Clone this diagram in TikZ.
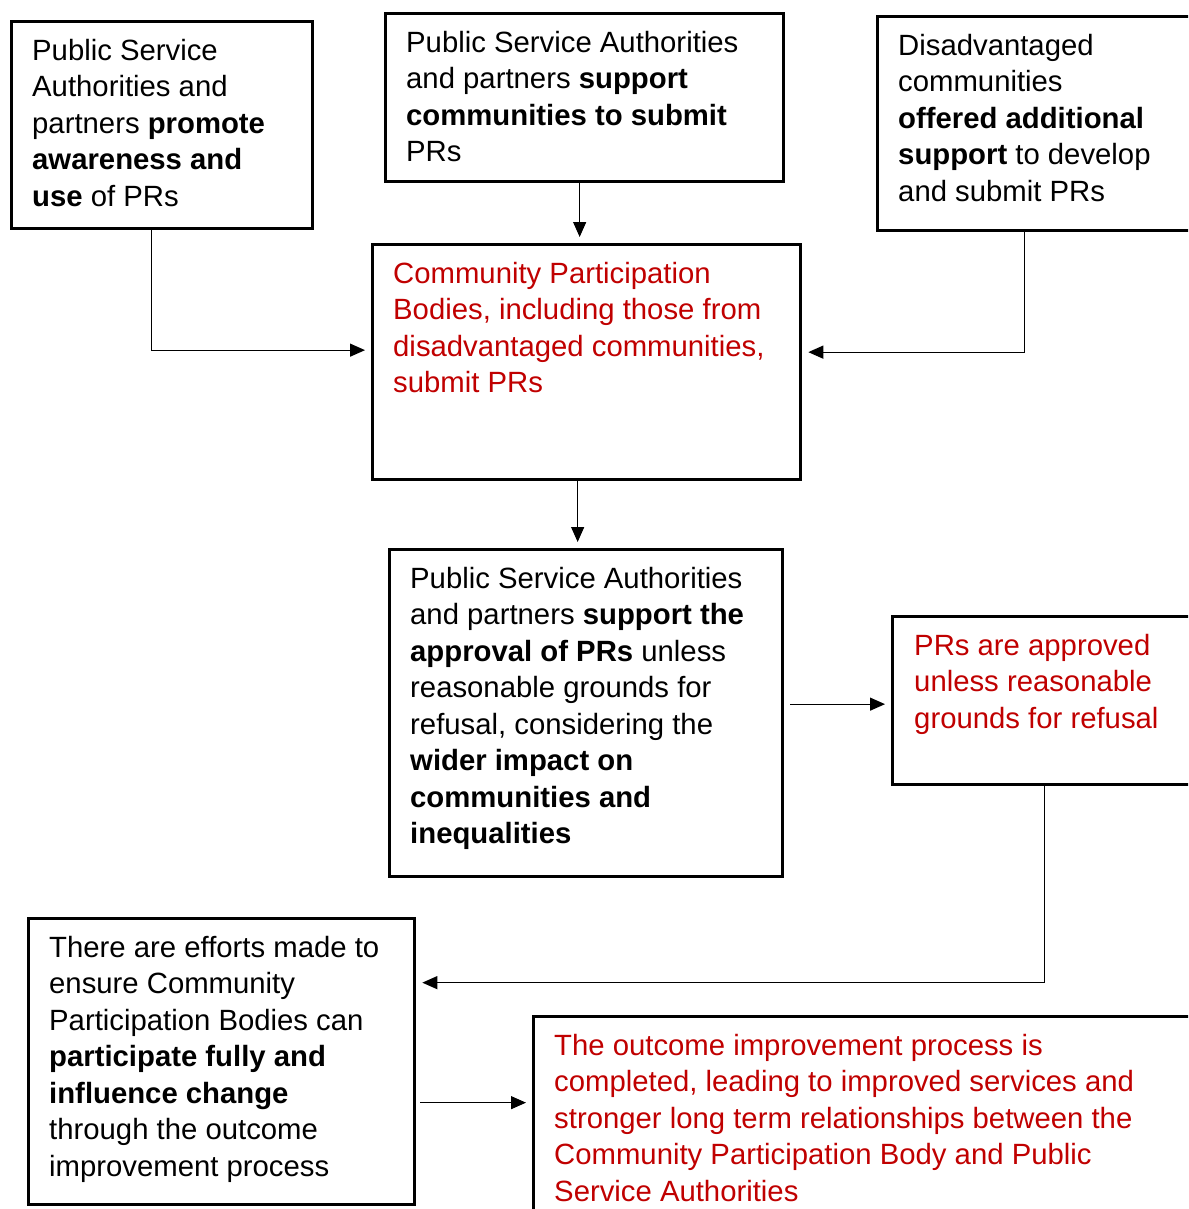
\documentclass[tikz,border=0pt]{standalone}
\usepackage{fontspec}
\setmainfont{Liberation Sans}
\usetikzlibrary{arrows.meta}
\definecolor{outred}{HTML}{C00000}
\begin{document}
\begin{tikzpicture}[
      x=1pt, y=-1pt,
      font=\fontsize{29.3}{36.5}\selectfont,
      box/.style={draw, line width=3.3pt, anchor=north west, inner sep=0pt},
      txt/.style={anchor=north west, align=left, inner sep=0pt},
      arr/.style={line width=1.2pt, -{Triangle[length=15pt,width=13pt]}, shorten >=6pt}
    ]
    \useasboundingbox (0,0) rectangle (1188,1209);
    \clip (0,0) rectangle (1188,1209);
    % boxes
    \node[box, minimum width=301, minimum height=207] (aware) at (10,20) {};
    \node[box, minimum width=398, minimum height=168] (help) at (384,12) {};
    \node[box, minimum width=330, minimum height=214] (extra) at (876,15) {};
    \node[box, minimum width=428, minimum height=235] (submit) at (371,243) {};
    \node[box, minimum width=393, minimum height=327] (approve) at (388,548) {};
    \node[box, minimum width=315, minimum height=168] (approved) at (891,615) {};
    \node[box, minimum width=386, minimum height=286] (effort) at (27,917) {};
    \node[box, minimum width=674, minimum height=220] (outcome) at (532,1015) {};
    % texts
    \node[txt] (aware-t) at ([shift={(22pt,-19pt)}]aware.north west)
      {Public Service\\Authorities and\\partners \textbf{promote}\\\textbf{awareness and}\\\textbf{use} of PRs};
    \node[txt] (help-t) at ([shift={(22pt,-19pt)}]help.north west)
      {Public Service Authorities\\and partners \textbf{support}\\\textbf{communities to submit}\\PRs};
    \node[txt] (extra-t) at ([shift={(22pt,-19pt)}]extra.north west)
      {Disadvantaged\\communities\\\textbf{offered additional}\\\textbf{support} to develop\\and submit PRs};
    \node[txt, text=outred] (submit-t) at ([shift={(22pt,-19pt)}]submit.north west)
      {Community Participation\\Bodies, including those from\\disadvantaged communities,\\submit PRs};
    \node[txt] (approve-t) at ([shift={(22pt,-19pt)}]approve.north west)
      {Public Service Authorities\\and partners \textbf{support the}\\\textbf{approval of PRs} unless\\reasonable grounds for\\refusal, considering the\\\textbf{wider impact on}\\\textbf{communities and}\\\textbf{inequalities}};
    \node[txt, text=outred] (approved-t) at ([shift={(23pt,-19pt)}]approved.north west)
      {PRs are approved\\unless reasonable\\grounds for refusal};
    \node[txt] (effort-t) at ([shift={(22pt,-19pt)}]effort.north west)
      {There are efforts made to\\ensure Community\\Participation Bodies can\\\textbf{participate fully and}\\\textbf{influence change}\\through the outcome\\improvement process};
    \node[txt, text=outred] (outcome-t) at ([shift={(22pt,-19pt)}]outcome.north west)
      {The outcome improvement process is\\completed, leading to improved services and\\stronger long term relationships between the\\Community Participation Body and Public\\Service Authorities};
    % connectors
    \draw[arr] ([xshift=-11pt]aware.south) |- ([yshift=12pt]submit.west);
    \draw[arr] ([xshift=-5pt]help.south) -- ([xshift=-5pt]help.south |- submit.north);
    \draw[arr] ([xshift=-18pt]extra.south) |- ([yshift=10pt]submit.east);
    \draw[arr] ([xshift=-9pt]submit.south) -- ([xshift=-9pt]submit.south |- approve.north);
    \draw[arr, shorten <=6pt] ([yshift=9pt]approve.east) -- ([yshift=9pt]approve.east -| approved.west);
    \draw[arr] ([xshift=-6pt]approved.south) |- ([yshift=79pt]effort.east);
    \draw[arr, shorten <=4pt] ([yshift=-41pt]effort.east) -- ([yshift=-41pt]effort.east -| outcome.west);
  \end{tikzpicture}
\end{document}
